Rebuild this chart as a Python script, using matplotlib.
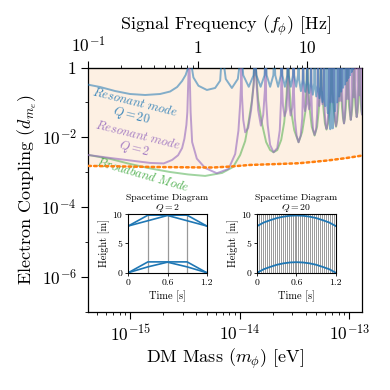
import numpy as np
import matplotlib
matplotlib.use("Agg")
import matplotlib.pyplot as plt
from matplotlib.ticker import FixedLocator, NullFormatter

plt.rcParams.update({
    "font.family": "serif",
    "font.serif": ["cmr10"],
    "mathtext.fontset": "cm",
    "axes.unicode_minus": False,
    "axes.formatter.use_mathtext": True,
})

H_EV_S = 4.135667e-15  # Planck constant in eV s

# ---------------- data (frequency in Hz, coupling d_me) ----------------
q20_freq = [0.100, 0.128, 0.175, 0.240, 0.330, 0.452, 0.558, 0.647, 0.718, 0.774, 0.807, 0.8333,
            0.911, 1.013, 1.21, 1.44, 1.60, 1.667,
            1.80, 2.047, 2.32, 2.5,
            2.6, 2.92, 3.23, 3.333,
            3.43, 3.75, 4.07, 4.167,
            4.26, 4.58, 4.9, 5.0,
            5.1, 5.42, 5.73, 5.833,
            5.93, 6.25, 6.57, 6.667,
            6.77, 7.08, 7.4, 7.5,
            7.6, 7.92, 8.23, 8.333,
            8.43, 8.75, 9.07, 9.167,
            9.27, 9.58, 9.9, 10.0,
            10.1, 10.42, 10.73, 10.83,
            10.93, 11.25, 11.57, 11.67,
            11.77, 12.08, 12.4, 12.5,
            12.6, 12.92, 13.23, 13.33,
            13.43, 13.75, 14.07, 14.17,
            14.27, 14.58, 14.9, 15.0,
            15.1, 15.42, 15.73, 15.83,
            15.93, 16.25, 16.57, 16.67,
            16.77, 17.08, 17.4, 17.5,
            17.6, 17.92, 18.23, 18.33,
            18.43, 18.75, 19.07, 19.17,
            19.27, 19.58, 19.9, 20.0,
            20.1, 20.42, 20.73, 20.83,
            20.93, 21.25, 21.57, 21.67,
            21.77, 22.08, 22.4, 22.5,
            22.6, 22.92, 23.23, 23.33,
            23.75, 24.17, 24.58, 25.0, 25.42, 25.83, 26.25, 26.67, 27.08, 27.5]
q20_coupling = [0.321, 0.276, 0.212, 0.174, 0.163, 0.174, 0.205, 0.276, 0.41, 0.61, 0.91, 3.0,
                0.52, 0.30, 0.227, 0.259, 0.42, 3.0,
                0.47, 0.259, 0.47, 3.0,
                0.6, 0.28, 0.6, 3.0,
                0.6, 0.28, 0.6, 3.0,
                0.6, 0.28, 0.6, 3.0,
                0.6, 0.28, 0.6, 3.0,
                0.6, 0.28, 0.6, 3.0,
                0.6, 0.28, 0.6, 3.0,
                0.6, 0.28, 0.6, 3.0,
                0.45, 0.21, 0.45, 3.0,
                0.43, 0.20, 0.43, 3.0,
                0.40, 0.186, 0.40, 3.0,
                0.36, 0.166, 0.36, 3.0,
                0.32, 0.148, 0.32, 3.0,
                0.28, 0.132, 0.28, 3.0,
                0.22, 0.102, 0.22, 3.0,
                0.17, 0.078, 0.17, 3.0,
                0.105, 0.049, 0.105, 3.0,
                0.037, 0.017, 0.037, 3.0,
                0.039, 0.018, 0.039, 3.0,
                0.12, 0.056, 0.12, 3.0,
                0.21, 0.10, 0.21, 3.0,
                0.32, 0.148, 0.32, 3.0,
                0.44, 0.204, 0.44, 3.0,
                0.56, 0.263, 0.56, 3.0,
                0.70, 0.324, 0.70, 3.0,
                0.88, 0.41, 0.88, 3.0,
                0.50, 3.0, 0.60, 3.0, 0.74, 3.0, 0.89, 3.0, 1.15, 3.0]

q2_freq = [0.100, 0.158, 0.240, 0.366, 0.488, 0.582, 0.660, 0.718, 0.754, 0.786, 0.802, 0.818, 0.8333,
           0.848, 0.859, 0.887, 0.979, 1.166, 1.492, 1.91, 2.195, 2.35, 2.437, 2.48, 2.5,
           2.531, 2.60, 2.708, 2.886, 3.07, 3.24, 3.333,
           3.45, 3.56, 3.77, 3.96, 4.10, 4.167,
           4.21, 4.35, 4.58, 4.92, 5.32, 5.61, 5.76, 5.833,
           5.90, 6.0, 6.2, 6.45, 6.6, 6.667,
           6.75, 6.85, 7.05, 7.3, 7.45, 7.5,
           7.56, 7.7, 8.0, 8.33, 8.7, 9.0, 9.12, 9.167,
           9.22, 9.35, 9.55, 9.82, 9.95, 10.0,
           10.05, 10.18, 10.4, 10.65, 10.78, 10.83,
           10.9, 11.05, 11.3, 11.67, 12.05, 12.3, 12.45, 12.5,
           12.6, 12.9, 13.25, 13.33,
           13.43, 13.75, 14.07, 14.17,
           14.25, 14.45, 14.7, 15.0, 15.3, 15.55, 15.75, 15.83,
           15.93, 16.25, 16.57, 16.67,
           16.77, 17.08, 17.4, 17.5,
           17.6, 17.8, 18.05, 18.33, 18.6, 18.85, 19.07, 19.17,
           19.27, 19.58, 19.9, 20.0,
           20.1, 20.42, 20.73, 20.83,
           20.93, 21.15, 21.4, 21.67, 21.95, 22.2, 22.4, 22.5,
           22.6, 22.92, 23.23, 23.33,
           23.43, 23.75, 24.07, 24.17,
           24.27, 24.5, 24.75, 25.0, 25.25, 25.5, 25.73, 25.83,
           25.93, 26.25, 26.57, 26.67,
           26.77, 27.08, 27.4, 27.5,
           27.6, 27.85, 28.1, 28.33, 28.6, 28.85, 29.07, 29.17,
           29.27, 29.58, 29.9, 30.0,
           30.1, 30.42, 30.73, 30.83,
           30.93, 31.2, 31.45, 31.67, 31.95, 32.2]
q2_coupling = [3.1e-3, 2.55e-3, 2.16e-3, 1.84e-3, 1.78e-3, 2.24e-3, 3.05e-3, 4.9e-3, 9.1e-3, 2.25e-2, 5.3e-2, 0.38, 3.0,
               0.32, 0.053, 7.3e-3, 2.44e-3, 1.32e-3, 9.3e-4, 1.24e-3, 3.32e-3, 0.0155, 0.09, 0.32, 3.0,
               0.16, 0.0316, 0.0139, 0.0186, 0.06, 0.32, 3.0,
               0.32, 0.06, 0.0215, 0.044, 0.226, 3.0,
               0.117, 0.0225, 6.0e-3, 3.72e-3, 4.9e-3, 0.016, 0.117, 3.0,
               0.25, 0.08, 0.04, 0.06, 0.25, 3.0,
               0.3, 0.08, 0.042, 0.07, 0.3, 3.0,
               0.2, 0.035, 0.011, 7.2e-3, 0.011, 0.035, 0.2, 3.0,
               0.3, 0.09, 0.056, 0.09, 0.3, 3.0,
               0.3, 0.1, 0.063, 0.1, 0.3, 3.0,
               0.2, 0.045, 0.017, 0.0117, 0.017, 0.045, 0.2, 3.0,
               0.3, 0.079, 0.3, 3.0,
               0.3, 0.089, 0.3, 3.0,
               0.2, 0.05, 0.024, 0.0174, 0.024, 0.05, 0.2, 3.0,
               0.35, 0.1, 0.35, 3.0,
               0.35, 0.1, 0.35, 3.0,
               0.2, 0.055, 0.028, 0.021, 0.028, 0.055, 0.2, 3.0,
               0.38, 0.11, 0.38, 3.0,
               0.38, 0.11, 0.38, 3.0,
               0.2, 0.06, 0.033, 0.025, 0.033, 0.06, 0.2, 3.0,
               0.42, 0.126, 0.42, 3.0,
               0.42, 0.126, 0.42, 3.0,
               0.25, 0.07, 0.042, 0.0316, 0.042, 0.07, 0.25, 3.0,
               0.45, 0.14, 0.45, 3.0,
               0.45, 0.14, 0.45, 3.0,
               0.25, 0.08, 0.05, 0.038, 0.05, 0.08, 0.25, 3.0,
               0.5, 0.16, 0.5, 3.0,
               0.5, 0.16, 0.5, 3.0,
               0.28, 0.09, 0.055, 0.045, 0.055, 0.09]

broad_freq = [0.100, 0.158, 0.240, 0.366, 0.558, 0.815, 1.166, 1.667, 2.103, 2.437, 2.708, 2.89, 3.12, 3.26, 3.333,
              3.42, 3.56, 3.88, 4.21, 4.58, 4.92, 5.32, 5.78, 6.16, 6.47, 6.6, 6.667,
              6.85, 7.1, 7.6, 8.33, 8.99, 9.6, 9.85, 10.0,
              10.2, 10.6, 11.0, 11.67, 12.3, 12.7, 13.1, 13.33,
              13.6, 14.1, 14.5, 15.0, 15.5, 16.0, 16.45, 16.67,
              16.95, 17.5, 17.9, 18.33, 18.8, 19.2, 19.75, 20.0,
              20.3, 20.8, 21.2, 21.67, 22.1, 22.5, 23.0, 23.33,
              23.6, 24.1, 24.6, 25.0, 25.4, 25.9, 26.4, 26.67,
              26.95, 27.5, 27.9, 28.33, 28.8, 29.2, 29.7, 30.0,
              30.3, 30.8, 31.2, 31.67, 32.1]
broad_coupling = [3.11e-3, 2.4e-3, 1.72e-3, 1.28e-3, 1.01e-3, 8.6e-4, 7.8e-4, 9.5e-4, 1.41e-3, 3.1e-3, 7.8e-3, 0.024, 0.112, 0.44, 3.0,
                  0.61, 0.117, 0.0225, 7.3e-3, 4.3e-3, 3.72e-3, 4.3e-3, 8.4e-3, 0.027, 0.163, 0.5, 3.0,
                  0.32, 0.06, 0.016, 7.2e-3, 0.0142, 0.053, 0.32, 3.0,
                  0.227, 0.053, 0.02, 0.0112, 0.02, 0.053, 0.227, 3.0,
                  0.227, 0.06, 0.025, 0.0166, 0.025, 0.06, 0.227, 3.0,
                  0.23, 0.065, 0.03, 0.02, 0.03, 0.065, 0.23, 3.0,
                  0.25, 0.07, 0.036, 0.025, 0.036, 0.07, 0.25, 3.0,
                  0.27, 0.08, 0.045, 0.0316, 0.045, 0.08, 0.27, 3.0,
                  0.3, 0.09, 0.052, 0.038, 0.052, 0.09, 0.3, 3.0,
                  0.32, 0.1, 0.06, 0.045, 0.06]

bound_freq = [0.100, 0.2, 0.366, 0.7, 1.38, 2.0, 3.0, 5.0, 8.33, 11.0, 15.3, 22.0, 32.0]
bound_coupling = [1.51e-3, 1.46e-3, 1.41e-3, 1.38e-3, 1.36e-3, 1.45e-3, 1.61e-3, 1.70e-3, 1.80e-3, 1.95e-3, 2.16e-3, 2.5e-3, 3.0e-3]

# inset: spacetime diagrams (time [s], height [m])
q2_pulse_times = [0.3, 0.6, 0.9]
q2_top_arm_a = [8.0, 9.85, 9.85, 9.85, 8.0]
q2_top_arm_b = [8.0, 8.9, 9.8, 8.9, 8.0]
q2_bot_arm_a = [0.0, 1.85, 1.85, 1.85, 0.0]
q2_bot_arm_b = [0.0, 1.0, 1.8, 1.0, 0.0]
q2_arm_times = [0.0, 0.3, 0.6, 0.9, 1.2]

q20_pulse_times = [0.03, 0.06, 0.09, 0.12, 0.15, 0.18, 0.21, 0.24, 0.27, 0.30, 0.33, 0.36, 0.39,
                   0.42, 0.45, 0.48, 0.51, 0.54, 0.57, 0.60, 0.63, 0.66, 0.69, 0.72, 0.75, 0.78,
                   0.81, 0.84, 0.87, 0.90, 0.93, 0.96, 0.99, 1.02, 1.05, 1.08, 1.11, 1.14, 1.17]
q20_arm_times = [0.0, 0.1, 0.2, 0.3, 0.4, 0.5, 0.6, 0.7, 0.8, 0.9, 1.0, 1.1, 1.2]
q20_top_arm = [8.0, 8.6, 9.0, 9.36, 9.6, 9.75, 9.8, 9.75, 9.6, 9.36, 9.0, 8.6, 8.0]
q20_bot_arm = [0.0, 0.6, 1.0, 1.36, 1.6, 1.75, 1.8, 1.75, 1.6, 1.36, 1.0, 0.6, 0.0]


def f2m(f):
    return np.asarray(f) * H_EV_S


def m2f(m):
    return np.asarray(m) / H_EV_S


# ---------------- figure ----------------
fig = plt.figure(figsize=(3.9, 3.9), dpi=100)
ax = fig.add_axes([0.2267, 0.2008, 0.7016, 0.6261])

C_BLUE = "#1f77b4"
C_PURPLE = "#9467bd"
C_GREEN = "#2ca02c"
C_ORANGE = "#ff7f0e"

ax.fill_between(f2m(bound_freq), bound_coupling, 10.0, color="#fdf0e3", lw=0, zorder=0)
ax.plot(f2m(broad_freq), broad_coupling, color=C_GREEN, alpha=0.45, lw=1.4, zorder=2)
ax.plot(f2m(q2_freq), q2_coupling, color=C_PURPLE, alpha=0.6, lw=1.4, zorder=3)
ax.plot(f2m(q20_freq), q20_coupling, color=C_BLUE, alpha=0.55, lw=1.4, zorder=4)
ax.plot(f2m(bound_freq), bound_coupling, color=C_ORANGE, lw=1.8, ls=(0, (1, 1.3)),
        dash_capstyle="round", zorder=5)

ax.set_xscale("log")
ax.set_yscale("log")
ax.set_xlim(f2m(0.1), 1.31e-13)
ax.set_ylim(1e-7, 1)

ax.xaxis.set_major_locator(FixedLocator([1e-15, 1e-14, 1e-13]))
ax.set_xticklabels([r"$10^{-15}$", r"$10^{-14}$", r"$10^{-13}$"])
xminor = [k * 10.0 ** e for e in (-16, -15, -14) for k in range(2, 10)]
ax.xaxis.set_minor_locator(FixedLocator(xminor))
ax.xaxis.set_minor_formatter(NullFormatter())

ax.yaxis.set_major_locator(FixedLocator([1, 1e-2, 1e-4, 1e-6]))
ax.set_yticklabels([r"$1$", r"$10^{-2}$", r"$10^{-4}$", r"$10^{-6}$"])
ax.yaxis.set_minor_locator(FixedLocator([1e-1, 1e-3, 1e-5, 1e-7]))
ax.yaxis.set_minor_formatter(NullFormatter())

ax.tick_params(which="major", direction="out", length=5, width=0.8, labelsize=12.5)
ax.tick_params(which="minor", direction="out", length=2.5, width=0.6)
ax.set_xlabel(r"DM Mass ($m_\phi$) [eV]", fontsize=13, labelpad=2)
ax.set_ylabel(r"Electron Coupling ($d_{m_e}$)", fontsize=13, labelpad=2)

sec = ax.secondary_xaxis("top", functions=(m2f, f2m))
sec.xaxis.set_major_locator(FixedLocator([0.1, 1, 10]))
sec.set_xticklabels([r"$10^{-1}$", r"$1$", r"$10$"])
fminor = [k * 10.0 ** e for e in (-1, 0, 1) for k in range(2, 10)]
sec.xaxis.set_minor_locator(FixedLocator(fminor))
sec.xaxis.set_minor_formatter(NullFormatter())
sec.tick_params(which="major", direction="out", length=5, width=0.8, labelsize=12.5)
sec.tick_params(which="minor", direction="out", length=2.5, width=0.6)
sec.set_xlabel(r"Signal Frequency ($f_\phi$) [Hz]", fontsize=13, labelpad=4)

for s in ax.spines.values():
    s.set_linewidth(0.9)

ax.text(0.163, 0.826, r"$\mathit{Resonant\ mode}$" + "\n" + r"$Q = 20$", transform=ax.transAxes,
        color=C_BLUE, alpha=0.85, fontsize=9, rotation=-14, ha="center", va="center",
        multialignment="center", linespacing=1.0)
ax.text(0.174, 0.691, r"$\mathit{Resonant\ mode}$" + "\n" + r"$Q = 2$", transform=ax.transAxes,
        color=C_PURPLE, alpha=0.85, fontsize=9, rotation=-14, ha="center", va="center",
        multialignment="center", linespacing=1.0)
ax.text(0.198, 0.560, r"$\mathit{Broadband\ Mode}$", transform=ax.transAxes,
        color=C_GREEN, alpha=0.8, fontsize=9, rotation=-16, ha="center", va="center")

# ---------------- insets ----------------
def setup_inset(axi, title):
    axi.set_xlim(0, 1.2)
    axi.set_ylim(0, 10)
    axi.set_xticks([0, 0.6, 1.2])
    axi.set_xticklabels(["0", "0.6", "1.2"])
    axi.set_yticks([0, 5, 10])
    axi.set_yticklabels(["0", "5", "10"])
    axi.tick_params(labelsize=7, length=2.5, width=0.6, pad=2)
    axi.set_xlabel("Time [s]", fontsize=7.5, labelpad=2)
    axi.set_ylabel("Height [m]", fontsize=7.5, labelpad=2)
    axi.set_title(title, fontsize=7, pad=2, linespacing=1.0)
    for s in axi.spines.values():
        s.set_linewidth(0.8)


ax1 = fig.add_axes([0.329, 0.3008, 0.201, 0.1497])
for t in q2_pulse_times:
    ax1.axvline(t, color="#999999", lw=0.9, zorder=1)
ax1.plot(q2_arm_times, q2_top_arm_a, color=C_BLUE, lw=1.2, zorder=2)
ax1.plot(q2_arm_times, q2_top_arm_b, color=C_BLUE, lw=1.2, zorder=2)
ax1.plot(q2_arm_times, q2_bot_arm_a, color=C_BLUE, lw=1.2, zorder=2)
ax1.plot(q2_arm_times, q2_bot_arm_b, color=C_BLUE, lw=1.2, zorder=2)
setup_inset(ax1, "Spacetime Diagram\n" + r"$Q = 2$")

ax2 = fig.add_axes([0.6597, 0.3008, 0.201, 0.1497])
for t in q20_pulse_times:
    ax2.axvline(t, color="#999999", lw=0.7, zorder=1)
ax2.plot(q20_arm_times, q20_top_arm, color=C_BLUE, lw=1.3, zorder=2)
ax2.plot(q20_arm_times, q20_bot_arm, color=C_BLUE, lw=1.3, zorder=2)
setup_inset(ax2, "Spacetime Diagram\n" + r"$Q = 20$")

fig.savefig("out.png", dpi=100)
